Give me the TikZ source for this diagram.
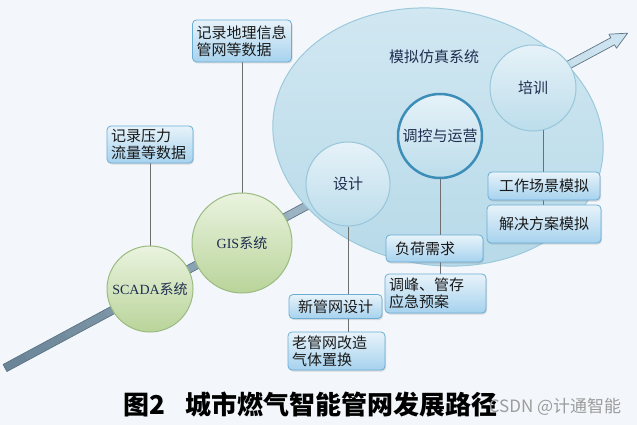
\documentclass[tikz,border=0pt]{standalone}
\usepackage{fontspec}
\setmainfont{Noto Sans CJK SC}
\newfontfamily\lat{Liberation Serif}
\usetikzlibrary{shadows}
\pgfdeclarelayer{back}
\pgfsetlayers{back,main}
\definecolor{bg}{HTML}{F3F7FB}
\definecolor{banddark}{HTML}{6A8597}
\definecolor{bandlight}{HTML}{CDE3F0}
\definecolor{bandedge}{HTML}{5C7384}
\definecolor{elltop}{HTML}{D2E8F2}
\definecolor{ellbot}{HTML}{B6D9E8}
\definecolor{elledge}{HTML}{9CC9DC}
\definecolor{simtop}{HTML}{E6F2F8}
\definecolor{simbot}{HTML}{BCDDEB}
\definecolor{simedge}{HTML}{98C6DA}
\definecolor{opsedge}{HTML}{3C8DB8}
\definecolor{gtop}{HTML}{EAF3DF}
\definecolor{gbot}{HTML}{B9D49A}
\definecolor{gedge}{HTML}{9BBA80}
\definecolor{navy}{HTML}{1F2E50}
\definecolor{boxtop}{HTML}{E8F3FA}
\definecolor{boxbot}{HTML}{A6D2EE}
\definecolor{boxedge}{HTML}{6AADD5}
\definecolor{boxtext}{HTML}{1A1A1A}
\definecolor{conngray}{HTML}{6E6E6E}
\definecolor{wmgray}{HTML}{9C9C9C}
\begin{document}
\begin{tikzpicture}[x=1pt,y=-1pt,
  box/.style={draw=boxedge, line width=0.8pt, rounded corners=4pt,
    top color=boxtop, bottom color=boxbot, inner xsep=4pt, inner ysep=0pt,
    font=\fontsize{15}{17}\selectfont, text=boxtext,
    drop shadow={shadow xshift=1pt, shadow yshift=-1.5pt, opacity=0.25}},
  simc/.style={circle, draw=simedge, line width=1pt, top color=simtop,
    bottom color=simbot, inner sep=0pt, text=navy, font=\fontsize{15}{17}\selectfont},
  gc/.style={circle, draw=gedge, line width=1pt, top color=gtop,
    bottom color=gbot, inner sep=0pt, text=navy, font=\fontsize{14}{16}\selectfont},
  conn/.style={draw=conngray, line width=1pt}]
\useasboundingbox (0,0) rectangle (637,425);
\begin{pgfonlayer}{back}
\fill[bg] (0,0) rectangle (637,425);
% development arrow
\begin{scope}[shift={(5,368)}, rotate=28.27]
  \foreach \i in {0,...,29}{
    \pgfmathtruncatemacro\p{100-\i*100/29}
    \fill[banddark!\p!bandlight] (\i*23,-4) rectangle (\i*23+23.6,4);
  }
  \fill[bandlight] (690,-8) -- (707,0) -- (690,8) -- cycle;
  \draw[bandedge, line width=0.7pt, line join=round] (0,-4) -- (690,-4) -- (690,-8)
    -- (707,0) -- (690,8) -- (690,4) -- (0,4) -- cycle;
\end{scope}
% simulation system ellipse
\shadedraw[top color=elltop, bottom color=ellbot, draw=elledge, line width=1pt,
  rotate around={-9:(438,137)}] (438,137) ellipse [x radius=166, y radius=128];
\end{pgfonlayer}
\node[text=navy, font=\fontsize{15}{17}\selectfont] (simlabel) at (434,57) {模拟仿真系统};
% boxes
\node[box, minimum height=37, text width=78, align=left] (rec1) at (150,144.5) {记录压力\\流量等数据};
\node[box, minimum height=42, text width=91, align=left] (rec2) at (242,41) {记录地理信息\\管网等数据};
\node[box, minimum height=28, text width=104, align=center] (work) at (544,186) {工作场景模拟};
\node[box, minimum height=38, text width=106, align=center] (solve) at (544,224) {解决方案模拟};
\node[box, minimum height=27, text width=79, inner xsep=9pt, align=left] (load) at (434.5,248.5) {负荷需求};
\node[box, minimum height=39, text width=93, align=left] (peak) at (435.5,293.5) {调峰、管存\\应急预案};
\node[box, minimum height=24, text width=85, align=center] (newd) at (335.5,306.5) {新管网设计};
\node[box, minimum height=38, text width=89, align=left] (old) at (336.5,351) {老管网改造\\气体置换};
% circles
\node[simc, minimum size=84] (design) at (348,184) {设计};
\node[simc, minimum size=84, draw=opsedge, line width=2.5pt] (ops) at (440,136) {调控与运营};
\node[simc, minimum size=86] (train) at (533,88) {培训};
\node[gc, minimum size=86] (scada) at (150,289) {{\lat SCADA}系统};
\node[gc, minimum size=100] (gis) at (242,243) {{\lat GIS}系统};
\coordinate (tl) at (543,88);
% connectors (under circles and boxes)
\begin{pgfonlayer}{back}
\draw[conn] (design) -- (design |- old.north);
\draw[conn] (ops) -- (ops |- peak.north);
\draw[conn] (tl) -- (tl |- solve.north);
\draw[conn] (rec1.south) -- (scada);
\draw[conn] (rec2.south) -- (gis);
\end{pgfonlayer}
% caption and watermark
\node[anchor=west, inner sep=0pt, font=\fontsize{26}{28}\selectfont\bfseries, text=black] (cap) at (123,405) {图2\hspace{20pt}城市燃气智能管网发展路径};
\node[inner sep=0pt, font=\fontsize{17}{19}\selectfont, text=wmgray] (wm) at (555,407) {CSDN @计通智能};
\end{tikzpicture}
\end{document}
